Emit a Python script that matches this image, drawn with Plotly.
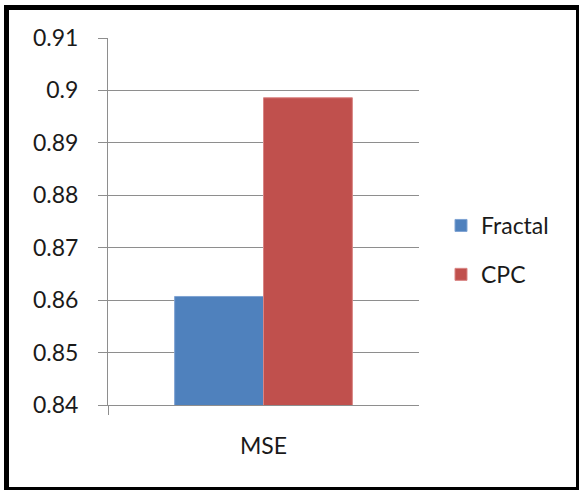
import plotly.graph_objects as go

# Values
categories = ["MSE"]
series_names = ["Fractal", "CPC"]
fractal_values = [0.8607]
cpc_values = [0.8986]
y_ticks = [0.84, 0.85, 0.86, 0.87, 0.88, 0.89, 0.9, 0.91]
y_tick_labels = ["0.84", "0.85", "0.86", "0.87", "0.88", "0.89", "0.9", "0.91"]

W, H = 580, 491
FONT = "Lato"
FSIZE = 23
GRID = "#8e8e8e"

def px_x(v):
    return v / W

def px_y(v):
    return 1 - v / H

fig = go.Figure()
fig.add_trace(go.Bar(
    x=categories, y=fractal_values, name=series_names[0], base=0,
    marker=dict(color="#4F81BD", line=dict(color="#7fa3d3", width=1)),
    legendgroup="a",
))
fig.add_trace(go.Bar(
    x=categories, y=cpc_values, name=series_names[1], base=0,
    marker=dict(color="#C0504D", line=dict(color="#d98584", width=1)),
    legendgroup="b",
))

# Outer frame of the chart area
frame = [
    (4, 5, 9, 490),     # left
    (4, 5, 579, 10),    # top
    (576, 5, 579, 490), # right
    (4, 487, 579, 490), # bottom
]
shapes = [
    dict(type="rect", xref="paper", yref="paper",
         x0=px_x(x0), x1=px_x(x1), y0=px_y(y1), y1=px_y(y0),
         fillcolor="black", line=dict(width=0), layer="above")
    for x0, y0, x1, y1 in frame
]

fig.update_layout(
    width=W, height=H,
    template="none",
    margin=dict(l=0, r=0, t=0, b=0),
    paper_bgcolor="white", plot_bgcolor="white",
    barmode="group", bargap=1.5 / 3.5, bargroupgap=0,
    font=dict(family=FONT, size=FSIZE, color="#1a1a1a"),
    showlegend=True,
    legend=dict(
        x=px_x(441), y=px_y(250), xanchor="left", yanchor="middle",
        font=dict(family=FONT, size=FSIZE, color="#1a1a1a"),
        tracegroupgap=16, traceorder="grouped",
        bgcolor="rgba(0,0,0,0)", borderwidth=0,
    ),
    xaxis=dict(
        domain=[px_x(108), px_x(419)],
        automargin=False,
        showgrid=False, showline=True, linecolor=GRID, linewidth=1,
        ticks="outside", tickson="boundaries", ticklen=9, tickcolor=GRID,
        tickwidth=1, ticklabelstandoff=20,
        tickfont=dict(family=FONT, size=FSIZE, color="#1a1a1a"),
        zeroline=False, fixedrange=True,
    ),
    yaxis=dict(
        domain=[px_y(405), px_y(38)],
        automargin=False,
        range=[0.84, 0.91],
        tickvals=y_ticks, ticktext=y_tick_labels,
        showgrid=True, gridcolor=GRID, gridwidth=1,
        showline=True, linecolor=GRID, linewidth=1,
        ticks="outside", ticklen=9, tickcolor=GRID, tickwidth=1,
        ticklabelstandoff=15,
        tickfont=dict(family=FONT, size=FSIZE, color="#1a1a1a"),
        zeroline=False, fixedrange=True,
    ),
    shapes=shapes,
)

fig.write_html("out.html")
